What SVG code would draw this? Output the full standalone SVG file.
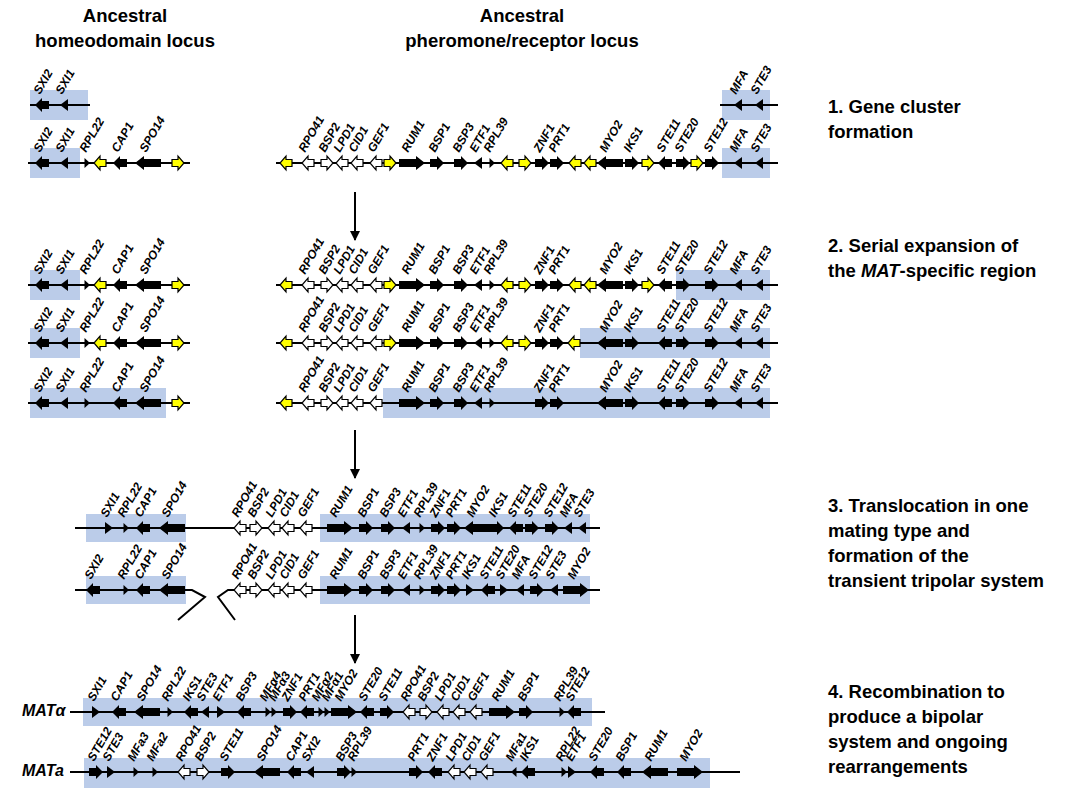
<svg xmlns="http://www.w3.org/2000/svg" xmlns:xlink="http://www.w3.org/1999/xlink" width="1085" height="800" viewBox="0 0 1085 800">
<style>
.ln{stroke:#000;stroke-width:2;fill:none}
.bx{fill:#b4c7e7;opacity:.9}
.b{fill:#000}
.w{fill:#fff;stroke:#000;stroke-width:1.2}
.y{fill:#ff0;stroke:#000;stroke-width:1.2}
.g{font:italic bold 12px "Liberation Sans",Arial,sans-serif}
.h{font:bold 18.5px "Liberation Sans",Arial,sans-serif}
.s{font:italic bold 16px "Liberation Sans",Arial,sans-serif}
</style>
<defs>
<polygon id="tR" class="b" points="-4,-6 4,0 -4,6"/>
<polygon id="tL" class="b" points="4,-6 -4,0 4,6"/>
<polygon id="sR" class="b" points="-2.5,-5 3,0 -2.5,5"/>
<polygon id="sL" class="b" points="2.5,-5 -3,0 2.5,5"/>
<polygon id="mR" class="b" points="-7,-4 0,-4 0,-7 7,0 0,7 0,4 -7,4"/>
<polygon id="mL" class="b" points="7,-4 0,-4 0,-7 -7,0 0,7 0,4 7,4"/>
<polygon id="LR" class="b" points="-13,-4 4,-4 4,-7 13,0 4,7 4,4 -13,4"/>
<polygon id="LL" class="b" points="13,-4 -4,-4 -4,-7 -13,0 -4,7 -4,4 13,4"/>
<polygon id="wR" class="w" points="-6,-3.5 0,-3.5 0,-7 6,0 0,7 0,3.5 -6,3.5"/>
<polygon id="wL" class="w" points="6,-3.5 0,-3.5 0,-7 -6,0 0,7 0,3.5 6,3.5"/>
<polygon id="yR" class="y" points="-6,-3.5 0,-3.5 0,-7 6,0 0,7 0,3.5 -6,3.5"/>
<polygon id="yL" class="y" points="6,-3.5 0,-3.5 0,-7 -6,0 0,7 0,3.5 6,3.5"/>
<marker id="ah" viewBox="0 0 10 10" refX="9" refY="5" markerWidth="5" markerHeight="5" orient="auto"><path d="M0,0 L10,5 L0,10 z" fill="#000"/></marker>
<g id="homeo">
<line class="ln" x1="28" y1="0" x2="190" y2="0"/>
<use href="#mL" x="42"/><use href="#tL" x="64"/><use href="#sR" x="87"/><use href="#yL" x="100"/><use href="#mL" x="120"/><use href="#LL" x="148"/><use href="#yR" x="178"/>
<text class="g" transform="translate(40,-10) rotate(-60)">SXI2</text>
<text class="g" transform="translate(62,-10) rotate(-60)">SXI1</text>
<text class="g" transform="translate(86,-10) rotate(-60)">RPL22</text>
<text class="g" transform="translate(118,-10) rotate(-60)">CAP1</text>
<text class="g" transform="translate(146,-10) rotate(-60)">SPO14</text>
</g>
<g id="pwhite">
<use href="#wL" x="308"/><use href="#wR" x="327"/><use href="#wL" x="342"/><use href="#wL" x="357"/><use href="#wL" x="376"/>
<text class="g" transform="translate(305,-10) rotate(-60)">RPO41</text>
<text class="g" transform="translate(325,-10) rotate(-60)">BSP2</text>
<text class="g" transform="translate(340,-10) rotate(-60)">LPD1</text>
<text class="g" transform="translate(355,-10) rotate(-60)">CID1</text>
<text class="g" transform="translate(374,-10) rotate(-60)">GEF1</text>
</g>
<g id="pblack">
<use href="#LR" x="412"/><use href="#mR" x="437"/><use href="#mR" x="461"/><use href="#tL" x="478"/><use href="#sR" x="492"/><use href="#mR" x="542"/><use href="#mR" x="557"/><use href="#LL" x="610"/><use href="#mR" x="632"/><use href="#mL" x="665"/><use href="#mR" x="683"/><use href="#mR" x="712"/><use href="#tL" x="738"/><use href="#tL" x="759"/>
<text class="g" transform="translate(408,-10) rotate(-60)">RUM1</text>
<text class="g" transform="translate(435,-10) rotate(-60)">BSP1</text>
<text class="g" transform="translate(459,-10) rotate(-60)">BSP3</text>
<text class="g" transform="translate(476,-10) rotate(-60)">ETF1</text>
<text class="g" transform="translate(490,-10) rotate(-60)">RPL39</text>
<text class="g" transform="translate(540,-10) rotate(-60)">ZNF1</text>
<text class="g" transform="translate(555,-10) rotate(-60)">PRT1</text>
<text class="g" transform="translate(606,-10) rotate(-60)">MYO2</text>
<text class="g" transform="translate(630,-10) rotate(-60)">IKS1</text>
<text class="g" transform="translate(663,-10) rotate(-60)">STE11</text>
<text class="g" transform="translate(681,-10) rotate(-60)">STE20</text>
<text class="g" transform="translate(710,-10) rotate(-60)">STE12</text>
<text class="g" transform="translate(736,-10) rotate(-60)">MFA</text>
<text class="g" transform="translate(757,-10) rotate(-60)">STE3</text>
</g>
</defs>
<rect width="1085" height="800" fill="#fff"/>
<g id="titles">
<text class="h" x="125" y="22" text-anchor="middle">Ancestral</text>
<text class="h" x="125" y="47" text-anchor="middle">homeodomain locus</text>
<text class="h" x="522" y="22" text-anchor="middle">Ancestral</text>
<text class="h" x="522" y="47" text-anchor="middle">pheromone/receptor locus</text>
</g>
<g id="steps" class="h">
<text x="828" y="113">1. Gene cluster</text><text x="828" y="138">formation</text>
<text x="828" y="252">2. Serial expansion of</text><text x="828" y="277">the <tspan font-style="italic">MAT</tspan>-specific region</text>
<text x="828" y="512">3. Translocation in one</text><text x="828" y="537">mating type and</text><text x="828" y="562">formation of the</text><text x="828" y="587">transient tripolar system</text>
<text x="828" y="698">4. Recombination to</text><text x="828" y="723">produce a bipolar</text><text x="828" y="748">system and ongoing</text><text x="828" y="773">rearrangements</text>
</g>
<g id="connectors">
<line class="ln" x1="355" y1="192" x2="355" y2="240" marker-end="url(#ah)"/>
<line class="ln" x1="355" y1="430" x2="355" y2="478" marker-end="url(#ah)"/>
<line class="ln" x1="355" y1="615" x2="355" y2="663" marker-end="url(#ah)"/>
</g>
<g id="rowA0">
<rect class="bx" x="30" y="90" width="58" height="30"/>
<line class="ln" x1="30" y1="105" x2="90" y2="105"/>
<use href="#mL" x="42" y="105"/><use href="#tL" x="64" y="105"/>
<text class="g" transform="translate(40,95) rotate(-60)">SXI2</text>
<text class="g" transform="translate(62,95) rotate(-60)">SXI1</text>
<rect class="bx" x="722" y="90" width="48" height="30"/>
<line class="ln" x1="720" y1="105" x2="778" y2="105"/>
<use href="#tL" x="738" y="105"/><use href="#tL" x="759" y="105"/>
<text class="g" transform="translate(736,95) rotate(-60)">MFA</text>
<text class="g" transform="translate(757,95) rotate(-60)">STE3</text>
</g>
<g id="rowA1">
<rect class="bx" x="30" y="148" width="50" height="30"/>
<rect class="bx" x="722" y="148" width="48" height="30"/>
<use href="#homeo" y="163"/>
<line class="ln" x1="276" y1="163" x2="778" y2="163"/>
<use href="#pwhite" y="163"/><use href="#pblack" y="163"/>
<g transform="translate(0,163)"><use href="#yL" x="286"/><use href="#yR" x="390"/><use href="#yL" x="507"/><use href="#yR" x="525"/><use href="#yL" x="575"/><use href="#yL" x="590"/><use href="#yR" x="648"/><use href="#yR" x="697"/></g>
</g>
<g id="rowB1">
<rect class="bx" x="30" y="270" width="50" height="30"/>
<rect class="bx" x="676" y="270" width="94" height="30"/>
<use href="#homeo" y="285"/>
<line class="ln" x1="276" y1="285" x2="778" y2="285"/>
<use href="#pwhite" y="285"/><use href="#pblack" y="285"/>
<g transform="translate(0,285)"><use href="#yL" x="286"/><use href="#yR" x="390"/><use href="#yL" x="507"/><use href="#yR" x="525"/><use href="#yL" x="575"/><use href="#yL" x="590"/><use href="#yR" x="648"/></g>
</g>
<g id="rowB2">
<rect class="bx" x="30" y="328" width="50" height="30"/>
<rect class="bx" x="580" y="328" width="190" height="30"/>
<use href="#homeo" y="343"/>
<line class="ln" x1="276" y1="343" x2="778" y2="343"/>
<use href="#pwhite" y="343"/><use href="#pblack" y="343"/>
<g transform="translate(0,343)"><use href="#yL" x="286"/><use href="#yR" x="390"/><use href="#yL" x="507"/><use href="#yR" x="525"/><use href="#yL" x="574"/></g>
</g>
<g id="rowB3">
<rect class="bx" x="30" y="388" width="136" height="30"/>
<rect class="bx" x="383" y="388" width="387" height="30"/>
<line class="ln" x1="28" y1="403" x2="190" y2="403"/>
<g transform="translate(0,403)">
<use href="#mL" x="42"/><use href="#tL" x="64"/><use href="#sR" x="87"/><use href="#mL" x="120"/><use href="#LL" x="148"/><use href="#yR" x="178"/>
<text class="g" transform="translate(40,-10) rotate(-60)">SXI2</text>
<text class="g" transform="translate(62,-10) rotate(-60)">SXI1</text>
<text class="g" transform="translate(86,-10) rotate(-60)">RPL22</text>
<text class="g" transform="translate(118,-10) rotate(-60)">CAP1</text>
<text class="g" transform="translate(146,-10) rotate(-60)">SPO14</text>
</g>
<line class="ln" x1="276" y1="403" x2="778" y2="403"/>
<use href="#pwhite" y="403"/><use href="#pblack" y="403"/>
<use href="#yL" x="286" y="403"/>
</g>
<g id="rowC1">
<rect class="bx" x="86" y="514" width="100" height="28"/>
<rect class="bx" x="320" y="514" width="270" height="28"/>
<line class="ln" x1="75" y1="528" x2="600" y2="528"/>
<g transform="translate(0,528)">
<use href="#tR" x="109"/><use href="#sR" x="126"/><use href="#mL" x="143"/><use href="#LL" x="172"/>
<use href="#wL" x="240"/><use href="#wR" x="256"/><use href="#wL" x="274"/><use href="#wL" x="288"/><use href="#wL" x="306"/>
<use href="#LR" x="340"/><use href="#mR" x="366"/><use href="#mR" x="388"/><use href="#tL" x="406"/><use href="#sR" x="422"/><use href="#mR" x="438"/><use href="#mR" x="454"/><use href="#LL" x="477"/><use href="#mR" x="497"/><use href="#mL" x="516"/><use href="#mR" x="532"/><use href="#mR" x="552"/><use href="#tL" x="568"/><use href="#tL" x="582"/>
<text class="g" transform="translate(107,-10) rotate(-60)">SXI1</text>
<text class="g" transform="translate(124,-10) rotate(-60)">RPL22</text>
<text class="g" transform="translate(141,-10) rotate(-60)">CAP1</text>
<text class="g" transform="translate(168,-10) rotate(-60)">SPO14</text>
<text class="g" transform="translate(238,-10) rotate(-60)">RPO41</text>
<text class="g" transform="translate(254,-10) rotate(-60)">BSP2</text>
<text class="g" transform="translate(272,-10) rotate(-60)">LPD1</text>
<text class="g" transform="translate(286,-10) rotate(-60)">CID1</text>
<text class="g" transform="translate(304,-10) rotate(-60)">GEF1</text>
<text class="g" transform="translate(336,-10) rotate(-60)">RUM1</text>
<text class="g" transform="translate(364,-10) rotate(-60)">BSP1</text>
<text class="g" transform="translate(386,-10) rotate(-60)">BSP3</text>
<text class="g" transform="translate(404,-10) rotate(-60)">ETF1</text>
<text class="g" transform="translate(420,-10) rotate(-60)">RPL39</text>
<text class="g" transform="translate(436,-10) rotate(-60)">ZNF1</text>
<text class="g" transform="translate(452,-10) rotate(-60)">PRT1</text>
<text class="g" transform="translate(473,-10) rotate(-60)">MYO2</text>
<text class="g" transform="translate(495,-10) rotate(-60)">IKS1</text>
<text class="g" transform="translate(514,-10) rotate(-60)">STE11</text>
<text class="g" transform="translate(530,-10) rotate(-60)">STE20</text>
<text class="g" transform="translate(550,-10) rotate(-60)">STE12</text>
<text class="g" transform="translate(566,-10) rotate(-60)">MFA</text>
<text class="g" transform="translate(580,-10) rotate(-60)">STE3</text>
</g>
</g>
<g id="rowC2">
<rect class="bx" x="86" y="576" width="100" height="28"/>
<rect class="bx" x="320" y="576" width="270" height="28"/>
<path class="ln" d="M75,590 L192,590 L205,597 L178,620"/>
<path class="ln" d="M235,620 L218,597 L228,590 L600,590"/>
<g transform="translate(0,590)">
<use href="#mL" x="93"/><use href="#sR" x="126"/><use href="#mL" x="143"/><use href="#LL" x="172"/>
<use href="#wL" x="240"/><use href="#wR" x="256"/><use href="#wL" x="274"/><use href="#wL" x="288"/><use href="#wL" x="306"/>
<use href="#LR" x="340"/><use href="#mR" x="366"/><use href="#mR" x="388"/><use href="#tL" x="406"/><use href="#sR" x="422"/><use href="#mR" x="438"/><use href="#mR" x="454"/><use href="#tR" x="470"/><use href="#mL" x="488"/><use href="#tR" x="504"/><use href="#tL" x="520"/><use href="#mR" x="537"/><use href="#tL" x="554"/><use href="#LR" x="576"/>
<text class="g" transform="translate(91,-10) rotate(-60)">SXI2</text>
<text class="g" transform="translate(124,-10) rotate(-60)">RPL22</text>
<text class="g" transform="translate(141,-10) rotate(-60)">CAP1</text>
<text class="g" transform="translate(168,-10) rotate(-60)">SPO14</text>
<text class="g" transform="translate(238,-10) rotate(-60)">RPO41</text>
<text class="g" transform="translate(254,-10) rotate(-60)">BSP2</text>
<text class="g" transform="translate(272,-10) rotate(-60)">LPD1</text>
<text class="g" transform="translate(286,-10) rotate(-60)">CID1</text>
<text class="g" transform="translate(304,-10) rotate(-60)">GEF1</text>
<text class="g" transform="translate(336,-10) rotate(-60)">RUM1</text>
<text class="g" transform="translate(364,-10) rotate(-60)">BSP1</text>
<text class="g" transform="translate(386,-10) rotate(-60)">BSP3</text>
<text class="g" transform="translate(404,-10) rotate(-60)">ETF1</text>
<text class="g" transform="translate(420,-10) rotate(-60)">RPL39</text>
<text class="g" transform="translate(436,-10) rotate(-60)">ZNF1</text>
<text class="g" transform="translate(452,-10) rotate(-60)">PRT1</text>
<text class="g" transform="translate(468,-10) rotate(-60)">IKS1</text>
<text class="g" transform="translate(486,-10) rotate(-60)">STE11</text>
<text class="g" transform="translate(502,-10) rotate(-60)">STE20</text>
<text class="g" transform="translate(518,-10) rotate(-60)">MFA</text>
<text class="g" transform="translate(535,-10) rotate(-60)">STE12</text>
<text class="g" transform="translate(552,-10) rotate(-60)">STE3</text>
<text class="g" transform="translate(574,-10) rotate(-60)">MYO2</text>
</g>
</g>
<g id="rowD1">
<text class="s" x="22" y="716">MATα</text>
<rect class="bx" x="83" y="698" width="509" height="28"/>
<line class="ln" x1="70" y1="712" x2="605" y2="712"/>
<g transform="translate(0,712)">
<use href="#tR" x="96"/><use href="#mL" x="119"/><use href="#LL" x="147"/><use href="#sR" x="170"/><use href="#mL" x="191"/><use href="#tL" x="205"/><use href="#tR" x="221"/><use href="#mL" x="244"/><use href="#sR" x="268"/><use href="#sR" x="274"/><use href="#mR" x="290"/><use href="#mL" x="307"/><use href="#sR" x="321"/><use href="#sR" x="327"/><use href="#LR" x="344"/><use href="#mL" x="367"/><use href="#mR" x="387"/>
<use href="#wL" x="409"/><use href="#wR" x="426"/><use href="#wL" x="443"/><use href="#wL" x="459"/><use href="#wL" x="476"/>
<use href="#LR" x="502"/><use href="#mR" x="526"/><use href="#sR" x="562"/><use href="#mL" x="574"/>
<text class="g" transform="translate(94,-10) rotate(-60)">SXI1</text>
<text class="g" transform="translate(117,-10) rotate(-60)">CAP1</text>
<text class="g" transform="translate(143,-10) rotate(-60)">SPO14</text>
<text class="g" transform="translate(168,-10) rotate(-60)">RPL22</text>
<text class="g" transform="translate(189,-10) rotate(-60)">IKS1</text>
<text class="g" transform="translate(203,-10) rotate(-60)">STE3</text>
<text class="g" transform="translate(219,-10) rotate(-60)">ETF1</text>
<text class="g" transform="translate(242,-10) rotate(-60)">BSP3</text>
<text class="g" transform="translate(266,-10) rotate(-60)">MFα4</text>
<text class="g" transform="translate(275,-10) rotate(-60)">MFα3</text>
<text class="g" transform="translate(288,-10) rotate(-60)">ZNF1</text>
<text class="g" transform="translate(305,-10) rotate(-60)">PRT1</text>
<text class="g" transform="translate(318,-10) rotate(-60)">MFα2</text>
<text class="g" transform="translate(328,-10) rotate(-60)">MFα1</text>
<text class="g" transform="translate(341,-10) rotate(-60)">MYO2</text>
<text class="g" transform="translate(365,-10) rotate(-60)">STE20</text>
<text class="g" transform="translate(385,-10) rotate(-60)">STE11</text>
<text class="g" transform="translate(407,-10) rotate(-60)">RPO41</text>
<text class="g" transform="translate(424,-10) rotate(-60)">BSP2</text>
<text class="g" transform="translate(441,-10) rotate(-60)">LPD1</text>
<text class="g" transform="translate(457,-10) rotate(-60)">CID1</text>
<text class="g" transform="translate(474,-10) rotate(-60)">GEF1</text>
<text class="g" transform="translate(498,-10) rotate(-60)">RUM1</text>
<text class="g" transform="translate(524,-10) rotate(-60)">BSP1</text>
<text class="g" transform="translate(560,-10) rotate(-60)">RPL39</text>
<text class="g" transform="translate(572,-10) rotate(-60)">STE12</text>
</g>
</g>
<g id="rowD2">
<text class="s" x="22" y="776">MATa</text>
<rect class="bx" x="84" y="758" width="626" height="30"/>
<line class="ln" x1="70" y1="772" x2="740" y2="772"/>
<g transform="translate(0,772)">
<use href="#mR" x="96"/><use href="#tR" x="111"/><use href="#sR" x="136"/><use href="#sR" x="155"/><use href="#wL" x="184"/><use href="#wR" x="203"/><use href="#mR" x="228"/><use href="#LL" x="267"/><use href="#mL" x="294"/><use href="#tL" x="310"/><use href="#mR" x="344"/><use href="#sR" x="354"/><use href="#mR" x="416"/><use href="#mL" x="435"/><use href="#wL" x="454"/><use href="#wL" x="470"/><use href="#wL" x="487"/><use href="#sL" x="514"/><use href="#mL" x="528"/><use href="#sR" x="564"/><use href="#tR" x="572"/><use href="#mL" x="597"/><use href="#mL" x="624"/><use href="#LL" x="655"/><use href="#LR" x="690"/>
<text class="g" transform="translate(94,-10) rotate(-60)">STE12</text>
<text class="g" transform="translate(109,-10) rotate(-60)">STE3</text>
<text class="g" transform="translate(134,-10) rotate(-60)">MFa3</text>
<text class="g" transform="translate(153,-10) rotate(-60)">MFa2</text>
<text class="g" transform="translate(182,-10) rotate(-60)">RPO41</text>
<text class="g" transform="translate(201,-10) rotate(-60)">BSP2</text>
<text class="g" transform="translate(226,-10) rotate(-60)">STE11</text>
<text class="g" transform="translate(263,-10) rotate(-60)">SPO14</text>
<text class="g" transform="translate(292,-10) rotate(-60)">CAP1</text>
<text class="g" transform="translate(308,-10) rotate(-60)">SXI2</text>
<text class="g" transform="translate(342,-10) rotate(-60)">BSP3</text>
<text class="g" transform="translate(354,-10) rotate(-60)">RPL39</text>
<text class="g" transform="translate(414,-10) rotate(-60)">PRT1</text>
<text class="g" transform="translate(433,-10) rotate(-60)">ZNF1</text>
<text class="g" transform="translate(452,-10) rotate(-60)">LPD1</text>
<text class="g" transform="translate(468,-10) rotate(-60)">CID1</text>
<text class="g" transform="translate(485,-10) rotate(-60)">GEF1</text>
<text class="g" transform="translate(512,-10) rotate(-60)">MFa1</text>
<text class="g" transform="translate(526,-10) rotate(-60)">IKS1</text>
<text class="g" transform="translate(562,-10) rotate(-60)">RPL22</text>
<text class="g" transform="translate(572,-10) rotate(-60)">ETF1</text>
<text class="g" transform="translate(595,-10) rotate(-60)">STE20</text>
<text class="g" transform="translate(622,-10) rotate(-60)">BSP1</text>
<text class="g" transform="translate(651,-10) rotate(-60)">RUM1</text>
<text class="g" transform="translate(686,-10) rotate(-60)">MYO2</text>
</g>
</g>
</svg>
